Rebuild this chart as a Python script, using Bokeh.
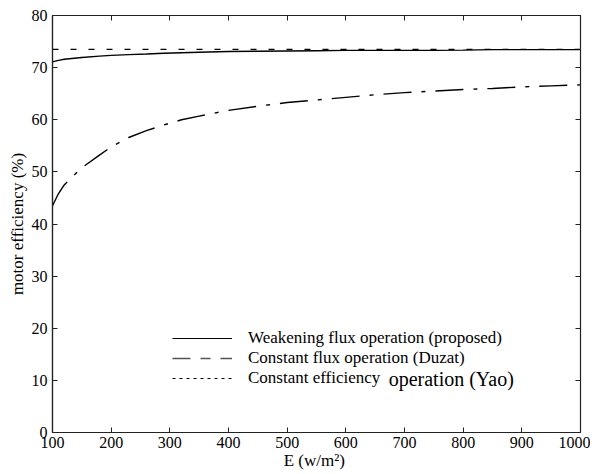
from bokeh.plotting import figure
from bokeh.models import LinearAxis, Legend, LegendItem, Label, FixedTicker, ColumnDataSource
from bokeh.embed import file_html
from bokeh.resources import INLINE

# ---- data ----
E = [100, 110, 120, 150, 180, 200, 230, 260, 290, 320, 350, 400, 450, 500,
     550, 600, 650, 700, 750, 800, 850, 900, 950, 1000]
weakening = [71.1, 71.4, 71.6, 71.95, 72.2, 72.35, 72.5, 72.6, 72.75, 72.85, 72.95, 73.1,
             73.15, 73.2, 73.25, 73.3, 73.3, 73.3, 73.3, 73.35, 73.45, 73.45, 73.45, 73.45]
duzat = [43.5, 45.8, 47.5, 50.8, 53.2, 54.8, 56.6, 57.9, 59.0, 60.0, 60.7, 61.8,
         62.6, 63.3, 63.8, 64.3, 64.8, 65.2, 65.5, 65.8, 66.0, 66.3, 66.5, 66.7]
yao = [73.5] * len(E)

labels = ["Weakening flux operation (proposed)",
          "Constant flux operation (Duzat)",
          "Constant efficiency"]
yao_suffix = "operation (Yao)"
x_ticks = [100, 200, 300, 400, 500, 600, 700, 800, 900, 1000]
y_ticks = [0, 10, 20, 30, 40, 50, 60, 70, 80]

FONT = "'Liberation Serif'"
NAN = float("nan")

p = figure(width=590, height=474, output_backend="svg", toolbar_location=None,
           x_range=(100, 1000), y_range=(0, 80),
           min_border_left=52, min_border_right=10, min_border_top=15, min_border_bottom=42)

p.grid.visible = False
p.outline_line_color = "#222222"
p.outline_line_width = 1.2

src = ColumnDataSource(dict(E=E, w=weakening, d=duzat, y=yao))
p.line("E", "w", source=src, line_color="black", line_width=1.4)
p.line("E", "d", source=src, line_color="black", line_width=1.4, line_dash="28 10 4 10")
p.line("E", "y", source=src, line_color="black", line_width=1.4, line_dash="6 12")

# legend-only renderers (no visible data)
dummy = ColumnDataSource(dict(x=[NAN], y=[NAN]))
r1 = p.line("x", "y", source=dummy, line_color="black", line_width=1.2)
r2 = p.line("x", "y", source=dummy, line_color="#555555", line_width=1.3, line_dash="18 10 10 10")
r3 = p.line("x", "y", source=dummy, line_color="black", line_width=1.2, line_dash="3 4")

legend = Legend(items=[LegendItem(label=labels[0], renderers=[r1]),
                       LegendItem(label=labels[1], renderers=[r2]),
                       LegendItem(label=labels[2], renderers=[r3])],
                location=(120, 44), border_line_color=None, background_fill_alpha=0,
                padding=0, margin=0, spacing=0, glyph_width=60, glyph_height=18,
                label_height=18, label_standoff=16,
                label_text_font=FONT, label_text_font_size="17px", label_text_color="black")
p.add_layout(legend, "center")

p.add_layout(Label(x=673, y=10.3, text=yao_suffix, text_font=FONT, text_font_size="20px",
                   text_baseline="middle", text_color="black"))

for ax in (p.xaxis[0], p.yaxis[0]):
    ax.major_label_text_font = FONT
    ax.major_label_text_font_size = "16px"
    ax.major_label_text_color = "black"
    ax.axis_label_text_font = FONT
    ax.axis_label_text_font_size = "17px"
    ax.axis_label_text_font_style = "normal"
    ax.axis_label_text_color = "black"
    ax.major_tick_in = 5
    ax.major_tick_out = 0
    ax.minor_tick_line_color = None
    ax.axis_line_color = "#222222"
    ax.major_tick_line_color = "#222222"
    ax.axis_line_width = 1.2

p.xaxis[0].ticker = FixedTicker(ticks=x_ticks)
p.yaxis[0].ticker = FixedTicker(ticks=y_ticks)
p.xaxis[0].axis_label = "E  (w/m²)"
p.yaxis[0].axis_label = "motor efficiency (%)"
p.xaxis[0].major_label_standoff = 4
p.xaxis[0].axis_label_standoff = 0
p.yaxis[0].major_label_standoff = 5
p.yaxis[0].axis_label_standoff = 2

top = LinearAxis(ticker=FixedTicker(ticks=x_ticks),
                 major_label_overrides={t: "" for t in x_ticks},
                 major_tick_in=5, major_tick_out=0, minor_tick_line_color=None,
                 major_label_standoff=0, axis_line_color="#222222", major_tick_line_color="#222222")
right = LinearAxis(ticker=FixedTicker(ticks=y_ticks),
                   major_label_overrides={t: "" for t in y_ticks},
                   major_tick_in=5, major_tick_out=0, minor_tick_line_color=None,
                   major_label_standoff=0, axis_line_color="#222222", major_tick_line_color="#222222")
p.add_layout(top, "above")
p.add_layout(right, "right")

open("out.html", "w").write(file_html(p, INLINE))
